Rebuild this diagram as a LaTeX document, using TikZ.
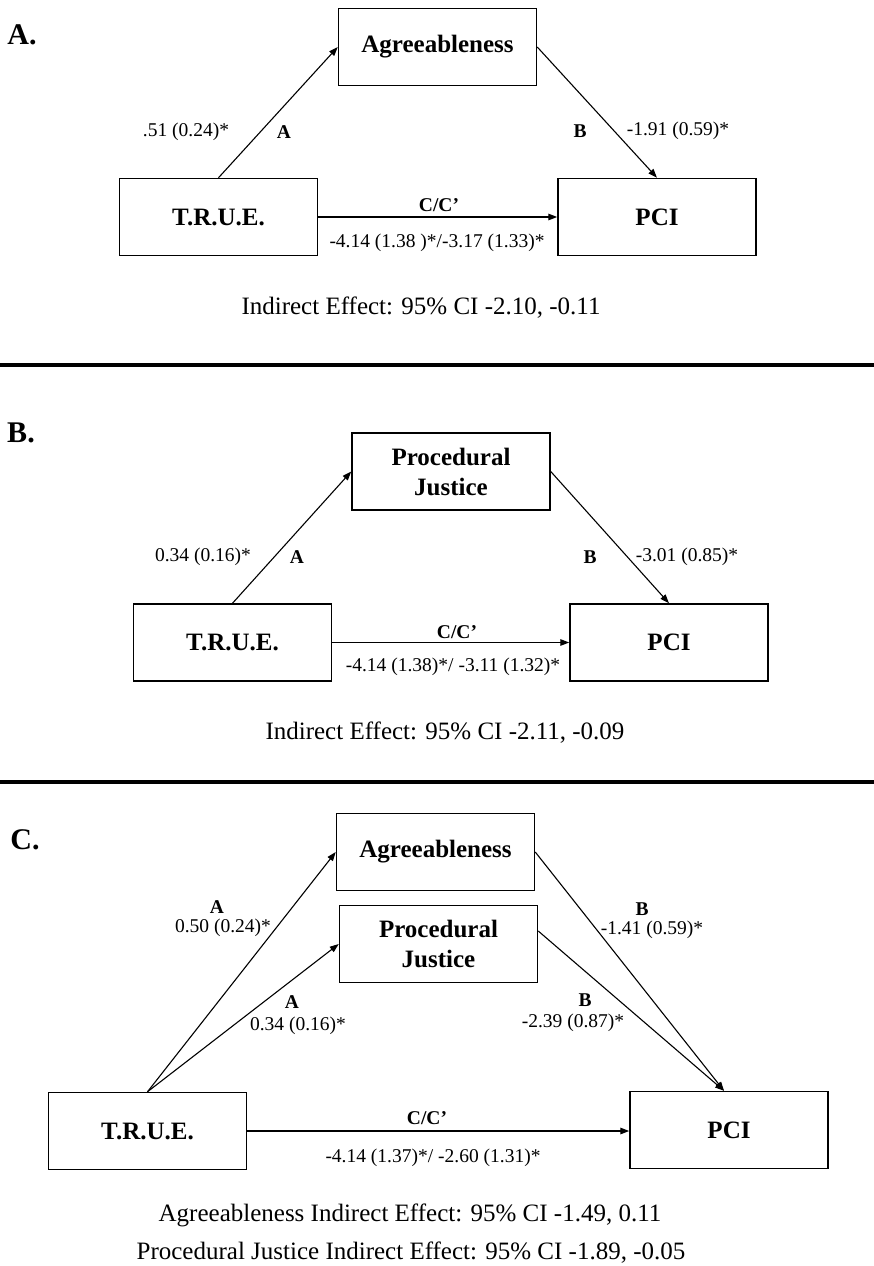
\documentclass[tikz,border=0pt]{standalone}
\usepackage{fontspec}
\setmainfont{Liberation Serif}
\usetikzlibrary{arrows.meta}
\begin{document}
\begin{tikzpicture}[x=1pt,y=-1pt,
  box/.style={draw, line width=1.5pt, minimum width=198pt, minimum height=77pt, inner sep=0pt,
    font=\fontsize{25}{30}\selectfont\bfseries, align=center},
  arr/.style={-{Triangle[length=9pt,width=6.5pt]}, line width=1.1pt},
  carr/.style={arr, line width=1.4pt},
  lab/.style={font=\fontsize{19.5}{21}\selectfont, inner sep=0pt},
  blab/.style={font=\fontsize{19.5}{21}\selectfont\bfseries, inner sep=0pt},
  note/.style={font=\fontsize{25}{27}\selectfont, inner sep=0pt},
  panel/.style={font=\fontsize{30}{32}\selectfont\bfseries, inner sep=0pt},
  sep/.style={line width=4pt}]
\path[use as bounding box, fill=white] (0,0) rectangle (874,1266);

% ---------------- Panel A ----------------
\node[panel] (pA) at (22,35) {A.};
\node[box] (agrA) at (437.5,47) {Agreeableness};
\node[box] (trueA) at (218.5,217) {T.R.U.E.};
\node[box] (pciA) at (657,217) {PCI};
\draw[arr] (trueA.north) -- (agrA.west);
\draw[arr] (agrA.east) -- (pciA.north);
\draw[carr] (trueA.east) -- (pciA.west);
\node[lab] (a1) at (186,132) {.51 (0.24)*};
\node[blab] (a2) at (284,132) {A};
\node[blab] (a3) at (580,131) {B};
\node[lab] (a4) at (678,131) {-1.91 (0.59)*};
\node[blab] (a5) at (439,205) {C/C’};
\node[lab] (a6) at (437,243) {-4.14 (1.38 )*/-3.17 (1.33)*};
\node[note] (a7) at (421,308) {Indirect Effect: 95\% CI -2.10, -0.11};

\coordinate (s1l) at (0,364.5);
\coordinate (s1r) at (874,364.5);
\draw[sep] (s1l) -- (s1r);

% ---------------- Panel B ----------------
\node[panel] (pB) at (21,433) {B.};
\node[box] (pjB) at (451,471.5) {Procedural\\Justice};
\node[box] (trueB) at (232.5,642.5) {T.R.U.E.};
\node[box] (pciB) at (669,642.5) {PCI};
\draw[arr] (trueB.north) -- (pjB.west);
\draw[arr] (pjB.east) -- (pciB.north);
\draw[carr] (trueB.east) -- (pciB.west);
\node[lab] (b1) at (203,557) {0.34 (0.16)*};
\node[blab] (b2) at (297,557) {A};
\node[blab] (b3) at (590,557) {B};
\node[lab] (b4) at (687,557) {-3.01 (0.85)*};
\node[blab] (b5) at (457,632) {C/C’};
\node[lab] (b6) at (453,667) {-4.14 (1.38)*/ -3.11 (1.32)*};
\node[note] (b7) at (445,733) {Indirect Effect: 95\% CI -2.11, -0.09};

\coordinate (s2l) at (0,782);
\coordinate (s2r) at (874,782);
\draw[sep] (s2l) -- (s2r);

% ---------------- Panel C ----------------
\node[panel] (pC) at (25,840) {C.};
\node[box] (agrC) at (435.5,852) {Agreeableness};
\node[box] (pjC) at (438.5,944) {Procedural\\Justice};
\node[box] (trueC) at (147.5,1131) {T.R.U.E.};
\node[box] (pciC) at (729,1130) {PCI};
\draw[arr] (trueC.north) -- (agrC.west);
\draw[arr] (trueC.north) -- (pjC.west);
\draw[arr] (agrC.east) -- ([xshift=-5pt]pciC.north);
\draw[arr] ([yshift=13pt]pjC.east) -- ([xshift=-5pt]pciC.north);
\draw[carr] (trueC.east) -- (trueC.east -| pciC.west);
\node[blab] (c1) at (217,907) {A};
\node[lab] (c2) at (223,928) {0.50 (0.24)*};
\node[blab] (c3) at (292,1002) {A};
\node[lab] (c4) at (298,1026) {0.34 (0.16)*};
\node[blab] (c5) at (642,909) {B};
\node[lab] (c6) at (652,930) {-1.41 (0.59)*};
\node[blab] (c7) at (585,1000) {B};
\node[lab] (c8) at (573,1023) {-2.39 (0.87)*};
\node[blab] (c9) at (427,1118) {C/C’};
\node[lab] (c10) at (433,1158) {-4.14 (1.37)*/ -2.60 (1.31)*};
\node[note] (c11) at (410,1215) {Agreeableness Indirect Effect: 95\% CI -1.49, 0.11};
\node[note] (c12) at (411,1253) {Procedural Justice Indirect Effect: 95\% CI -1.89, -0.05};
\end{tikzpicture}
\end{document}
